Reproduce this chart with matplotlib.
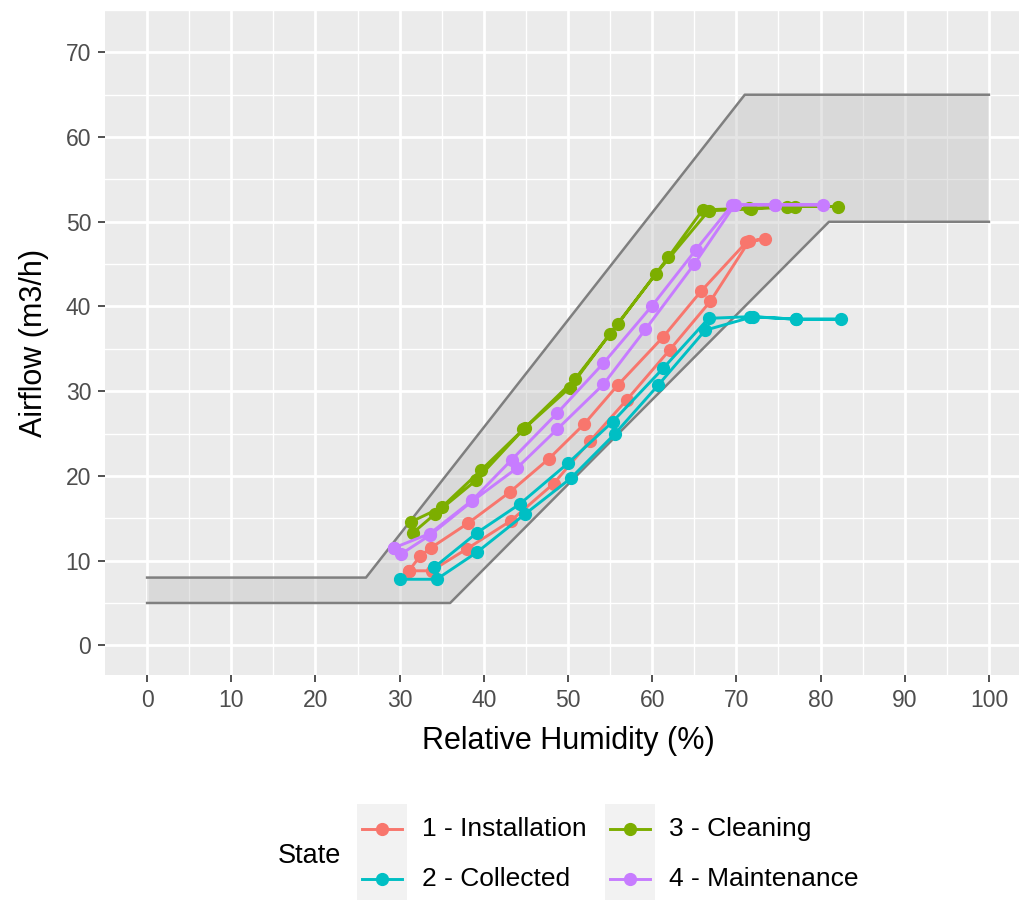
import matplotlib.pyplot as plt
from matplotlib.patches import Rectangle
from matplotlib.lines import Line2D

plt.rcParams['font.family'] = ['Liberation Sans', 'DejaVu Sans']

# Operating band: upper and lower airflow limits vs humidity
band_upper_rh = [0, 26, 71, 100]
band_upper_flow = [8, 8, 65, 65]
band_lower_rh = [0, 36, 81, 100]
band_lower_flow = [5, 5, 50, 50]

states = ['1 - Installation', '2 - Collected', '3 - Cleaning', '4 - Maintenance']
colors = ['#F8766D', '#00BFC4', '#7CAE00', '#C77CFF']

# Measured sweeps (humidity up then back down) for each state
install_rh = [31.1, 32.4, 33.7, 38.1, 43.1, 47.7, 51.9, 55.9, 61.3, 65.8, 71.2, 73.4,
              71.5, 66.9, 62.1, 57.0, 52.6, 48.3, 43.2, 38.0, 33.8, 31.1]
install_flow = [8.8, 10.5, 11.5, 14.4, 18.1, 22.0, 26.1, 30.7, 36.4, 41.8, 47.6, 48.0,
                47.7, 40.6, 34.9, 29.0, 24.1, 19.1, 14.7, 11.4, 8.8, 8.8]

collected_rh = [30.0, 34.4, 39.2, 44.9, 50.3, 55.6, 60.7, 66.3, 72.0, 77.1, 82.4,
                77.1, 71.6, 66.7, 61.3, 55.3, 50.0, 44.3, 39.2, 34.1]
collected_flow = [7.8, 7.8, 11.0, 15.5, 19.7, 25.0, 30.7, 37.2, 38.8, 38.5, 38.5,
                  38.5, 38.8, 38.6, 32.7, 26.4, 21.5, 16.7, 13.3, 9.2]

cleaning_rh = [31.6, 34.2, 39.1, 44.7, 50.2, 55.0, 60.4, 66.7, 71.7, 77.0, 82.1,
               76.0, 71.5, 66.0, 61.9, 55.9, 50.8, 44.9, 39.7, 35.0, 31.4]
cleaning_flow = [13.3, 15.5, 19.5, 25.5, 30.4, 36.8, 43.8, 51.3, 51.5, 51.8, 51.8,
                 51.8, 51.6, 51.4, 45.8, 37.9, 31.4, 25.7, 20.7, 16.3, 14.6]

maint_rh = [29.3, 33.6, 38.6, 43.3, 48.7, 54.2, 60.0, 65.2, 69.5, 74.6, 80.3,
            74.6, 69.8, 65.0, 59.2, 54.2, 48.7, 43.9, 38.6, 33.6, 30.2, 29.3]
maint_flow = [11.5, 13.2, 17.1, 21.9, 27.4, 33.3, 40.1, 46.7, 52.0, 52.0, 52.0,
              52.0, 52.0, 45.0, 37.3, 30.8, 25.5, 20.9, 17.0, 13.0, 10.8, 11.5]

series = [(install_rh, install_flow), (collected_rh, collected_flow),
          (cleaning_rh, cleaning_flow), (maint_rh, maint_flow)]

x_ticks = list(range(0, 101, 10))
y_ticks = list(range(0, 71, 10))

fig = plt.figure(figsize=(10.2, 9), dpi=100)
ax = fig.add_axes([105 / 1020, 1 - 675 / 900, 926 / 1020, 665 / 900])
ax.set_facecolor('#EBEBEB')
for s in ax.spines.values():
    s.set_visible(False)

ax.set_xlim(-5, 105)
ax.set_ylim(-3.5, 74.6)
ax.set_xticks(x_ticks)
ax.set_yticks(y_ticks)
ax.set_xticks([v + 5 for v in x_ticks[:-1]], minor=True)
ax.set_yticks([v + 5 for v in y_ticks], minor=True)
ax.grid(which='major', color='white', linewidth=2.0)
ax.grid(which='minor', color='white', linewidth=1.0)
ax.set_axisbelow(True)
ax.tick_params(which='major', length=5, width=1.2, color='#333333',
               labelsize=16.5, labelcolor='#4D4D4D', pad=5)
ax.tick_params(which='minor', length=0)

# band fill and its limit lines
poly_x = band_upper_rh + band_lower_rh[::-1]
poly_y = band_upper_flow + band_lower_flow[::-1]
ax.fill(poly_x, poly_y, color='#BEBEBE', alpha=0.4, linewidth=0, zorder=1)
ax.plot(band_upper_rh, band_upper_flow, color='#7F7F7F', linewidth=1.8, zorder=2)
ax.plot(band_lower_rh, band_lower_flow, color='#7F7F7F', linewidth=1.8, zorder=2)

for (rh, flow), c in zip(series, colors):
    ax.plot(rh, flow, color=c, linewidth=2.1, marker='o', markersize=8.5, zorder=3)

ax.set_xlabel('Relative Humidity (%)', fontsize=22, labelpad=10)
ax.set_ylabel('Airflow (m3/h)', fontsize=22, labelpad=12)

# legend drawn in pixel space below the panel
lg = fig.add_axes([0, 0, 1, 1], zorder=-1)
lg.set_xlim(0, 1020)
lg.set_ylim(900, 0)
lg.axis('off')
lg.text(278, 856, 'State', fontsize=19.5, va='center', ha='left')
key_x = [357, 605]
text_x = [422, 669]
row_y = [829, 879]
for col in range(2):
    lg.add_patch(Rectangle((key_x[col], 804), 50, 100, color='#F2F2F2', linewidth=0))
for i, (label, c) in enumerate(zip(states, colors)):
    col, row = i // 2, i % 2
    kx = key_x[col]
    y = row_y[row]
    lg.add_line(Line2D([kx + 5, kx + 45], [y, y], color=c, linewidth=2.1))
    lg.plot([kx + 25], [y], 'o', color=c, markersize=8.5)
    lg.text(text_x[col], y, label, fontsize=19, va='center', ha='left')

fig.savefig('out.png', dpi=100)
